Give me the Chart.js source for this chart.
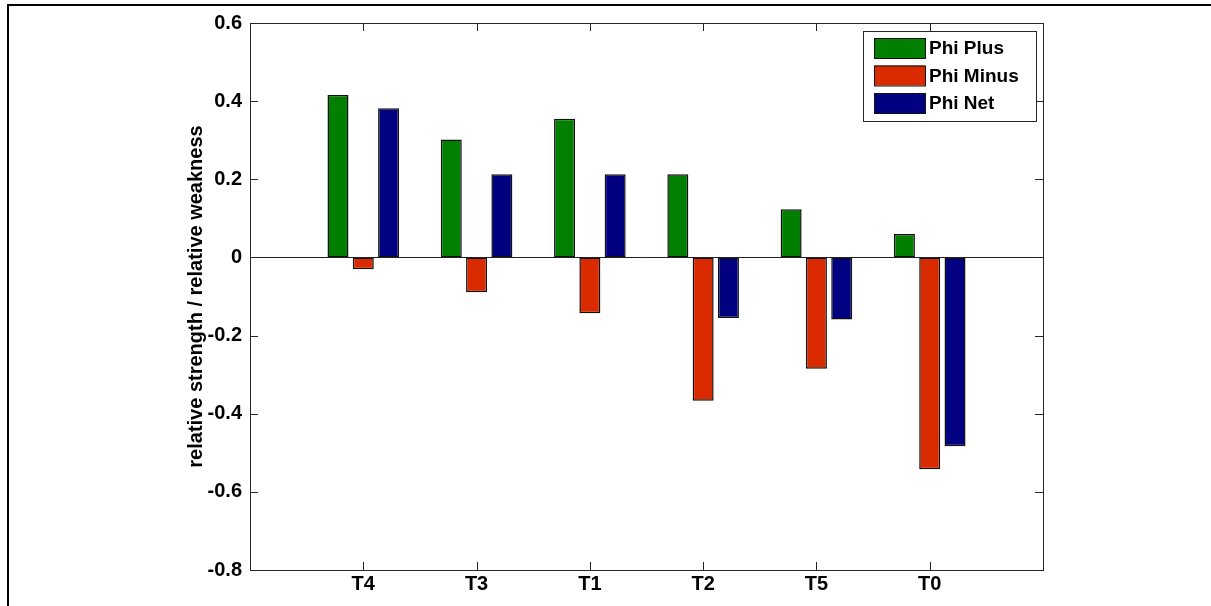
<!DOCTYPE html>
<html>
<head>
<meta charset="utf-8">
<script src="https://cdn.jsdelivr.net/npm/chart.js@4.4.0/dist/chart.umd.min.js"></script>
<style>
  html, body { margin: 0; padding: 0; background: #fff; }
  #wrap { width: 1211px; height: 606px; position: relative; }
</style>
</head>
<body>
<div id="wrap"><canvas id="phiChart" width="1211" height="606"></canvas></div>
<script>
const categories = ['T4', 'T3', 'T1', 'T2', 'T5', 'T0'];
const phiPlus  = [0.416, 0.302, 0.355, 0.213, 0.123, 0.060];
const phiMinus = [-0.030, -0.089, -0.143, -0.367, -0.285, -0.542];
const phiNet   = [0.382, 0.213, 0.213, -0.155, -0.159, -0.483];
const yTicks = [0.6, 0.4, 0.2, 0, -0.2, -0.4, -0.6, -0.8];
const yTitle = 'relative strength / relative weakness';

const FONT = '"Liberation Sans", Arial, Helvetica, sans-serif';

// empty slots at both ends so the groups sit at 1..6 on a 0..7 axis
const pad = arr => [null, ...arr, null];

const axisLines = {
    id: 'axisLines',
    afterDatasetsDraw(chart) {
        const ctx = chart.ctx;
        const a = chart.chartArea;
        const x = chart.scales.x, y = chart.scales.y;
        ctx.save();
        // zero baseline
        const y0 = Math.round(y.getPixelForValue(0)) + 0.5;
        ctx.strokeStyle = '#222';
        ctx.lineWidth = 1;
        ctx.beginPath();
        ctx.moveTo(a.left, y0); ctx.lineTo(a.right, y0);
        ctx.stroke();

        // box around plot
        ctx.strokeStyle = '#262626';
        ctx.strokeRect(Math.round(a.left) + 0.5, Math.round(a.top) + 0.5,
            Math.round(a.right - a.left), Math.round(a.bottom - a.top));

        // inward ticks on all sides
        const len = 8;
        ctx.beginPath();
        yTicks.forEach(v => {
            const py = Math.round(y.getPixelForValue(v)) + 0.5;
            ctx.moveTo(a.left, py); ctx.lineTo(a.left + len, py);
            ctx.moveTo(a.right, py); ctx.lineTo(a.right - len, py);
        });
        categories.forEach((c, i) => {
            const px = Math.round(x.getPixelForValue(i + 1)) + 0.5;
            ctx.moveTo(px, a.bottom); ctx.lineTo(px, a.bottom - len);
            ctx.moveTo(px, a.top); ctx.lineTo(px, a.top + len);
        });
        ctx.stroke();

        // y axis title
        ctx.fillStyle = '#000';
        ctx.font = 'bold 20px ' + FONT;
        ctx.textAlign = 'center';
        ctx.textBaseline = 'middle';
        ctx.translate(196, (a.top + a.bottom) / 2);
        ctx.rotate(-Math.PI / 2);
        ctx.fillText(yTitle, 0, 0);
        ctx.restore();

        // legend box
        ctx.save();
        const bx = a.right - 180, by = a.top + 8, bw = 173, bh = 90;
        ctx.fillStyle = '#fff';
        ctx.fillRect(bx, by, bw, bh);
        ctx.strokeStyle = '#262626';
        ctx.lineWidth = 1;
        ctx.strokeRect(bx + 0.5, by + 0.5, bw, bh);
        ctx.font = 'bold 19px ' + FONT;
        ctx.textAlign = 'left';
        ctx.textBaseline = 'middle';
        chart.data.datasets.forEach((ds, i) => {
            const ry = by + 7 + i * 27.5;
            ctx.fillStyle = ds.backgroundColor;
            ctx.fillRect(bx + 11, ry, 51, 20);
            ctx.strokeStyle = '#111';
            ctx.strokeRect(bx + 11.5, ry + 0.5, 51, 20);
            ctx.fillStyle = '#000';
            ctx.fillText(ds.label, bx + 66, ry + 11);
        });
        ctx.restore();

        // outer figure frame (top and left)
        ctx.save();
        ctx.strokeStyle = '#000';
        ctx.lineWidth = 2;
        ctx.beginPath();
        ctx.moveTo(8, 606); ctx.lineTo(8, 5); ctx.lineTo(1211, 5);
        ctx.stroke();
        ctx.restore();
    }
};

const ctx = document.getElementById('phiChart').getContext('2d');
new Chart(ctx, {
    type: 'bar',
    data: {
        labels: pad(categories).map(c => c || ''),
        datasets: [
            { label: 'Phi Plus',  data: pad(phiPlus),  backgroundColor: '#007f00' },
            { label: 'Phi Minus', data: pad(phiMinus), backgroundColor: '#d92a00' },
            { label: 'Phi Net',   data: pad(phiNet),   backgroundColor: '#000080' }
        ].map(ds => Object.assign(ds, {
            borderColor: '#111',
            borderWidth: 1.5,
            borderSkipped: false,
            categoryPercentage: 0.67,
            barPercentage: 0.83
        }))
    },
    options: {
        responsive: false,
        animation: false,
        devicePixelRatio: 1,
        layout: { padding: { left: 0, right: 168, top: 23, bottom: 0 } },
        plugins: { legend: { display: false }, tooltip: { enabled: false } },
        scales: {
            x: {
                offset: false,
                grid: { display: false, drawTicks: false },
                border: { display: false },
                ticks: {
                    color: '#000',
                    font: { family: FONT, size: 20, weight: 'bold' },
                    padding: 2,
                    autoSkip: false,
                    maxRotation: 0
                },
                afterFit: s => { s.height = 36; }
            },
            y: {
                min: -0.8,
                max: 0.6,
                grid: { display: false, drawTicks: false },
                border: { display: false },
                afterBuildTicks: s => { s.ticks = yTicks.map(v => ({ value: v })); },
                ticks: {
                    color: '#000',
                    font: { family: FONT, size: 20, weight: 'bold' },
                    padding: 8,
                    callback: v => String(Number(v.toFixed(1)))
                },
                afterFit: s => { s.width = 250; }
            }
        }
    },
    plugins: [axisLines]
});
</script>
</body>
</html>
